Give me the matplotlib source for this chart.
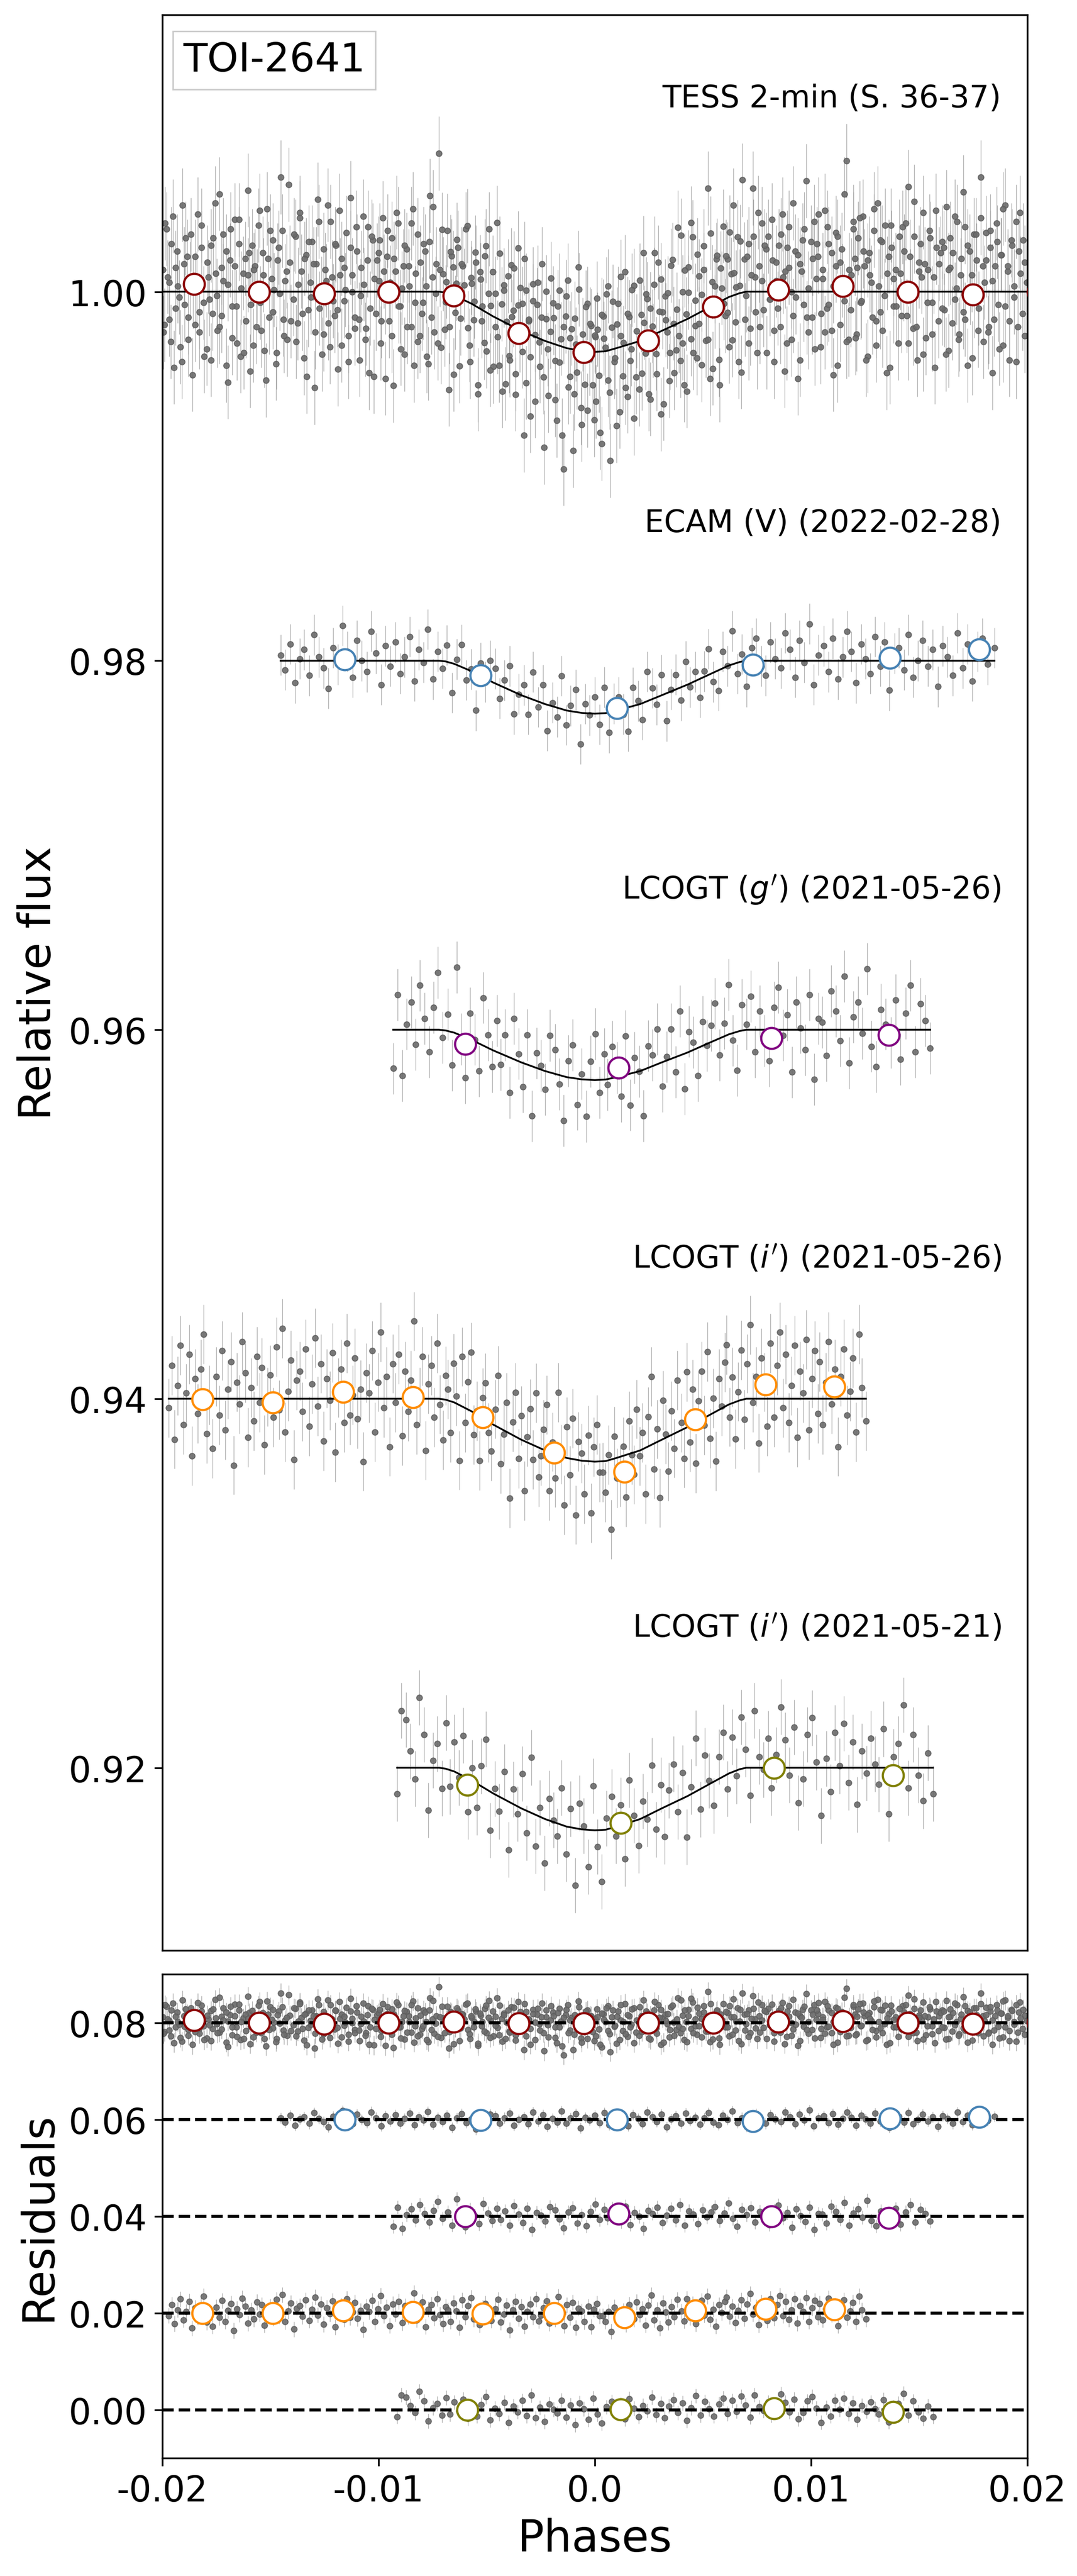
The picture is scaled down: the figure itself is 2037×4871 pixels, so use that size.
"""
plot.py
TOI-2641: phase-folded light curves (TESS, ECAM, LCOGT) with model and residuals
"""

import matplotlib.pyplot as plt
import numpy as np

plt.rcParams['axes.unicode_minus'] = False

# ---------------------------------------------------------------- data
# phases in units of 1e-5, residuals in units of 1e-4 (relative flux)

# TESS sector 36
tess36_phase = [
    -1998, -1989, -1981, -1969, -1960, -1952, -1939, -1931, -1921, -1910, -1899, -1892, -1879, -1871, -1860, -1849, -1841, -1830, -1819, -1809,
    -1795, -1786, -1776, -1767, -1755, -1747, -1736, -1727, -1718, -1705, -1697, -1686, -1677, -1666, -1657, -1645, -1637, -1626, -1614, -1605,
    -1599, -1591, -1579, -1571, -1562, -1550, -1542, -1533, -1520, -1512, -1502, -1490, -1483, -1473, -1462, -1452, -1440, -1433, -1422, -1411,
    -1394, -1384, -1375, -1364, -1357, -1344, -1334, -1325, -1315, -1307, -1295, -1288, -1275, -1264, -1255, -1247, -1235, -1224, -1216, -1203,
    -1197, -1187, -1178, -1170, -1158, -1149, -1140, -1129, -1122, -1109, -1101, -1089, -1081, -1069, -1059, -1050, -1039, -1028, -1021, -1007,
    -998, -989, -981, -969, -960, -952, -939, -931, -921, -910, -899, -892, -879, -871, -860, -849, -841, -830, -819, -809,
    -799, -791, -779, -771, -762, -750, -742, -733, -720, -712, -702, -690, -683, -673, -662, -652, -640, -633, -622, -611,
    -597, -587, -578, -570, -558, -549, -540, -529, -522, -509, -501, -489, -481, -469, -459, -450, -439, -428, -421, -407,
    -395, -386, -376, -367, -355, -347, -336, -327, -318, -305, -297, -286, -277, -266, -257, -245, -237, -226, -214, -205,
    -194, -184, -175, -164, -157, -144, -134, -125, -115, -107, -95, -88, -75, -64, -55, -47, -35, -24, -16, -3,
    2, 11, 19, 31, 40, 48, 61, 69, 79, 90, 101, 108, 121, 129, 140, 151, 159, 170, 181, 191,
    206, 216, 225, 236, 243, 256, 266, 275, 285, 293, 305, 312, 325, 336, 345, 353, 365, 376, 384, 397,
    405, 414, 424, 433, 445, 453, 464, 473, 482, 495, 503, 514, 523, 534, 543, 555, 563, 574, 586, 595,
    603, 613, 622, 630, 642, 651, 660, 671, 678, 691, 699, 711, 719, 731, 741, 750, 761, 772, 779, 793,
    801, 809, 821, 829, 838, 850, 858, 867, 880, 888, 898, 910, 917, 927, 938, 948, 960, 967, 978, 989,
    1005, 1014, 1024, 1033, 1045, 1053, 1064, 1073, 1082, 1095, 1103, 1114, 1123, 1134, 1143, 1155, 1163, 1174, 1186, 1195,
    1202, 1211, 1219, 1231, 1240, 1248, 1261, 1269, 1279, 1290, 1301, 1308, 1321, 1329, 1340, 1351, 1359, 1370, 1381, 1391,
    1403, 1413, 1422, 1430, 1442, 1451, 1460, 1471, 1478, 1491, 1499, 1511, 1519, 1531, 1541, 1550, 1561, 1572, 1579, 1593,
    1606, 1616, 1625, 1636, 1643, 1656, 1666, 1675, 1685, 1693, 1705, 1712, 1725, 1736, 1745, 1753, 1765, 1776, 1784, 1797,
    1801, 1809, 1821, 1829, 1838, 1850, 1858, 1867, 1880, 1888, 1898, 1910, 1917, 1927, 1938, 1948, 1960, 1967, 1978, 1989,
]
tess36_resid = [
    12, -18, 34, 5, -27, 41, -9, 22, -3, -38, 15, 29, -14, 7, -45, 19, 2, -22, 36, -6,
    -31, 8, 25, -12, 48, -2, -19, 13, 31, -40, 4, 17, -25, 39, -8, 26, -35, 10, -16, 55,
    21, -7, -29, 14, 3, 44, -21, 9, -48, 18, 33, -11, 1, -33, 24, 62, -15, 6, -26, 16,
    -4, 30, -17, 43, 11, -36, 20, -10, 5, 27, -52, 15, 38, -1, -23, 12, 47, -30, 8, -13,
    25, -42, 9, 18, -5, 32, -24, 51, 0, -14, 22, -37, 13, 4, -20, 35, -9, 28, -46, 17,
    6, -28, 40, -3, 19, -16, 29, -51, 11, 37, -8, 2, -34, 23, 14, -19, 45, -6, 31, -24,
    -12, 26, 3, -39, 52, 8, -22, 15, 75, -30, 10, -5, 34, -18, 21, -43, 7, 27, -11, 18,
    39, -14, -32, 11, 2, 24, -47, 16, -6, 30, -21, 46, 5, -27, 13, -10, 36, -38, 20, 1,
    -17, 33, 9, -25, 44, -3, 15, -56, 23, 7, -12, 28, -35, 18, -2, 41, -20, 12, -29, 6,
    22, -9, -41, 30, 4, -66, 17, 37, -15, 11, -24, 3, 45, -31, 9, -18, 26, -4, 14, -37,
    8, 29, -13, -50, 19, 2, 35, -23, 12, -7, -42, 24, 6, -16, 40, -28, 15, -3, 31, -19,
    -26, 14, 47, -8, 21, -34, 5, 27, -11, 38, -45, 10, 18, -2, -29, 33, 1, -14, 52, -21,
    16, -35, 3, 28, -12, 43, -6, -24, 20, 9, 35, -17, 65, -39, 13, -4, 24, -31, 7, 40,
    -9, 21, -27, 12, 49, -15, 31, 4, -43, 18, -2, 26, -20, 56, 8, -33, 14, 37, -10, 23,
    30, -4, 17, -38, 6, 25, -19, 42, 11, -28, 35, 0, -13, 22, -47, 15, 28, -7, 60, -22,
    -14, 38, 7, 19, -30, 12, 44, -9, 26, -21, 3, 32, -40, 16, 23, -5, 71, -26, 9, 34,
    18, -23, 29, -6, 41, 14, -35, 21, 5, 33, -16, 48, -11, 27, -2, -44, 19, 36, -8, 12,
    -28, 10, 35, 22, -13, 57, 3, -20, 30, -37, 16, 8, 43, -25, 12, 29, -6, -41, 24, 15,
    27, -10, 46, -32, 13, 21, -4, 38, -23, 9, 54, -15, 25, 2, -36, 31, 17, -9, 40, -27,
    5, 32, -19, 24, -44, 14, 37, -7, 20, -29, 47, 11, -16, 28, 3, -38, 22, 43, -12, 16,
]

# TESS sector 37
tess37_phase = [
    -1995, -1987, -1975, -1967, -1958, -1946, -1938, -1929, -1916, -1908, -1898, -1886, -1879, -1869, -1858, -1848, -1836, -1829, -1818, -1807,
    -1793, -1783, -1774, -1766, -1754, -1745, -1736, -1725, -1718, -1705, -1697, -1685, -1677, -1665, -1655, -1646, -1635, -1624, -1617, -1603,
    -1594, -1585, -1577, -1565, -1556, -1548, -1535, -1527, -1517, -1506, -1495, -1488, -1475, -1467, -1456, -1445, -1437, -1426, -1415, -1405,
    -1391, -1382, -1372, -1363, -1351, -1343, -1332, -1323, -1314, -1301, -1293, -1282, -1273, -1262, -1253, -1241, -1233, -1222, -1210, -1201,
    -1190, -1180, -1171, -1160, -1153, -1140, -1130, -1121, -1111, -1103, -1091, -1084, -1071, -1060, -1051, -1043, -1031, -1020, -1012, -1001,
    -995, -987, -975, -967, -958, -946, -938, -929, -916, -908, -898, -886, -879, -869, -858, -848, -836, -829, -818, -807,
    -794, -785, -777, -765, -756, -748, -735, -727, -717, -706, -695, -688, -675, -667, -656, -645, -637, -626, -615, -605,
    -590, -580, -571, -560, -553, -540, -530, -521, -511, -503, -491, -484, -471, -460, -451, -443, -431, -420, -412, -401,
    -393, -383, -374, -366, -354, -345, -336, -325, -318, -305, -297, -285, -277, -265, -255, -246, -235, -224, -217, -203,
    -191, -182, -172, -163, -151, -143, -132, -123, -114, -101, -93, -82, -73, -62, -53, -41, -33, -22, -10, -1,
    5, 13, 25, 33, 42, 54, 62, 71, 84, 92, 102, 114, 121, 131, 142, 152, 164, 171, 182, 193,
    209, 218, 228, 237, 249, 257, 268, 277, 286, 299, 307, 318, 327, 338, 347, 359, 367, 378, 390, 399,
    407, 417, 426, 434, 446, 455, 464, 475, 482, 495, 503, 515, 523, 535, 545, 554, 565, 576, 583, 597,
    606, 615, 623, 635, 644, 652, 665, 673, 683, 694, 705, 712, 725, 733, 744, 755, 763, 774, 785, 795,
    810, 820, 829, 840, 847, 860, 870, 879, 889, 897, 909, 916, 929, 940, 949, 957, 969, 980, 988, 999,
    1007, 1017, 1026, 1034, 1046, 1055, 1064, 1075, 1082, 1095, 1103, 1115, 1123, 1135, 1145, 1154, 1165, 1176, 1183, 1197,
    1205, 1213, 1225, 1233, 1242, 1254, 1262, 1271, 1284, 1292, 1302, 1314, 1321, 1331, 1342, 1352, 1364, 1371, 1382, 1393,
    1409, 1418, 1428, 1437, 1449, 1457, 1468, 1477, 1486, 1499, 1507, 1518, 1527, 1538, 1547, 1559, 1567, 1578, 1590, 1599,
    1606, 1615, 1623, 1635, 1644, 1652, 1665, 1673, 1683, 1694, 1705, 1712, 1725, 1733, 1744, 1755, 1763, 1774, 1785, 1795,
    1810, 1820, 1829, 1840, 1847, 1860, 1870, 1879, 1889, 1897, 1909, 1916, 1929, 1940, 1949, 1957, 1969, 1980, 1988, 1999,
]
tess37_resid = [
    -22, 37, 8, -15, 26, -41, 13, 3, -30, 47, -7, 19, -26, 31, 0, -18, 42, -11, 24, -35,
    16, -4, -37, 29, 10, -21, 53, -13, 6, 22, -49, 34, -8, 14, -28, 39, 2, -33, 18, 9,
    -43, 25, 12, -19, 36, -6, 21, -32, 45, -14, 7, 28, -39, 17, -1, 33, -24, 11, 58, -16,
    31, -27, 4, 40, -12, 18, -46, 27, -3, 15, -22, 50, -9, -34, 23, 6, -17, 38, -5, 26,
    -10, 44, -29, 13, 1, -38, 24, 9, -20, 35, -15, -2, 41, -26, 17, -44, 30, 7, -12, 21,
    28, -16, 11, -47, 33, 5, -24, 18, 43, -8, -31, 14, 25, -19, 3, 37, -40, 10, -27, 16,
    -6, 22, -35, 27, -14, 46, -1, -28, 12, 34, -20, 6, -52, 23, 15, -9, 31, -37, 19, 8,
    41, -23, 14, -8, 29, -42, 20, 2, -17, 36, 11, -30, 24, -5, 52, -25, 9, 17, -33, 26,
    -19, 5, 32, -36, 13, 23, -11, 40, -27, 8, -44, 19, 1, 30, -15, 12, -58, 27, -4, 35,
    14, -30, 21, -9, -48, 11, 28, -21, 6, -55, 17, -12, 33, -40, 4, 24, -32, 15, -18, 9,
    -27, 12, -44, 20, 7, 31, -16, -60, 26, -5, 13, -35, 38, 2, -23, 17, -9, 29, -41, 6,
    33, -18, 9, 24, -31, 15, -3, 44, -22, 11, 28, -40, 5, 19, -14, 36, -26, 8, -7, 47,
    -12, 27, -39, 14, 51, -20, 8, 32, -6, -29, 22, 3, -17, 40, -34, 10, 26, -45, 18, -2,
    23, -8, 35, -24, 12, 4, -37, 28, 61, -15, 19, -28, 9, 30, -11, 43, -19, 6, 25, -33,
    -4, 39, -21, 16, -9, 31, 8, -43, 24, 13, -26, 48, -3, 20, -37, 11, 34, -14, 2, 27,
    18, -31, 26, 42, -12, 7, -22, 35, -7, 21, -45, 14, 30, -18, 6, 53, -27, 12, -10, 38,
    -25, 13, 40, -5, 22, -37, 17, 9, -14, 45, -29, 3, 28, -21, 36, 10, -41, 24, 7, -8,
    30, -13, 4, 37, -28, 19, -2, 49, -19, 11, 26, -34, 15, -6, 33, -23, 8, 44, -16, 21,
    -9, 24, -34, 12, 29, -17, 41, 2, -26, 18, -11, 35, -40, 22, 9, -5, 31, -21, 62, 14,
    17, -22, 33, 6, -15, 27, -31, 20, 45, -8, 14, -37, 25, -3, 38, -19, 10, 28, -24, 5,
]

ecam_phase = [
    -1453, -1432, -1408, -1387, -1365, -1344, -1320, -1299, -1277, -1254, -1233, -1210, -1189, -1167, -1145,
    -1120, -1099, -1077, -1054, -1033, -1011, -988, -967, -945, -922, -900, -879, -856, -834, -813,
    -793, -772, -748, -727, -705, -684, -660, -639, -617, -594, -573, -550, -529, -507, -485,
    -460, -439, -417, -394, -373, -351, -328, -307, -285, -262, -240, -219, -196, -174, -153,
    -133, -112, -88, -67, -45, -24, 0, 21, 43, 66, 87, 110, 131, 153, 175,
    200, 221, 243, 266, 287, 309, 332, 353, 375, 398, 420, 441, 464, 486, 507,
    527, 548, 572, 593, 615, 636, 660, 681, 703, 726, 747, 770, 791, 813, 835,
    860, 881, 903, 926, 947, 969, 992, 1013, 1035, 1058, 1080, 1101, 1124, 1146, 1167,
    1187, 1208, 1232, 1253, 1275, 1296, 1320, 1341, 1363, 1386, 1407, 1430, 1451, 1473, 1495,
    1517, 1540, 1563, 1586, 1609, 1632, 1655, 1678, 1701, 1724, 1747, 1770, 1793, 1816, 1848,
]
ecam_resid = [
    3, -5, 9, -12, 1, 6, -8, 14, 2, -4, -15, 7, -2, 19, 5,
    -9, 11, 0, -6, 16, 4, -13, 8, -3, 10, -7, 2, 13, -11, 6,
    -1, 17, -10, 5, -4, 9, -16, 3, 12, -6, 1, -20, 7, -2, 11,
    8, -7, 4, 13, -12, 0, 6, -9, 15, -3, 10, -14, 2, -5, 18,
    -8, 3, 12, -17, 5, -1, 9, -6, 14, -11, 4, 7, -3, -13, 10,
    2, -9, 16, 6, -4, 11, -15, 1, 8, -7, 13, -2, 5, -10, 3,
    14, -5, -11, 9, 0, 18, -6, 4, -14, 7, 12, -3, -8, 10, 1,
    -4, 15, 6, -9, 11, -1, 20, -13, 3, 8, -6, 12, -10, 2, 16,
    5, -12, 9, 1, -7, 13, -3, 10, -16, 4, 7, -5, 14, -9, 0,
    11, -3, 6, -14, 8, 2, -8, 15, -4, 9, -11, 5, 12, -2, 7,
]

gp_phase = [
    -932, -912, -890, -870, -849, -829, -808, -787, -766, -746, -725, -704,
    -680, -660, -639, -618, -598, -577, -556, -536, -515, -494, -473, -453,
    -436, -416, -394, -374, -353, -333, -312, -291, -270, -250, -229, -208,
    -184, -164, -143, -122, -102, -81, -60, -40, -19, 2, 23, 43,
    60, 80, 102, 122, 143, 163, 184, 205, 226, 246, 267, 288,
    312, 332, 353, 374, 394, 415, 436, 456, 477, 498, 519, 539,
    556, 576, 598, 618, 639, 659, 680, 701, 722, 742, 763, 784,
    808, 828, 849, 870, 890, 911, 932, 952, 973, 994, 1015, 1035,
    1052, 1072, 1094, 1114, 1135, 1155, 1176, 1197, 1218, 1238, 1259, 1280,
    1300, 1323, 1346, 1369, 1391, 1414, 1437, 1460, 1483, 1506, 1528, 1551,
]
gp_resid = [
    -21, 19, -25, 3, 15, -8, 24, 6, -12, 12, 31, -4,
    9, -18, 36, -2, -22, 14, 1, -15, 26, 7, -9, 17,
    -6, 11, -19, 22, 4, -13, 16, -27, 8, 2, -10, 20,
    13, -5, -24, 9, 18, -14, 3, -20, 10, 25, -7, 14,
    -3, 17, 5, -11, 21, -17, 8, 0, -25, 12, 6, 19,
    -13, 2, 16, -8, 24, -19, 11, 4, -15, 13, -1, 9,
    20, -9, 7, 27, -4, -21, 14, 3, 18, -12, 10, -6,
    -17, 12, 23, -3, 8, -23, 15, 1, -11, 19, -27, 6,
    4, -14, 21, 10, -6, 29, -18, 7, 15, -2, 33, -9,
    -20, 11, 3, -7, 16, -16, 9, 24, -12, 14, 5, -10,
]

ip26_phase = [
    -1970, -1957, -1943, -1930, -1916, -1903, -1889, -1876, -1862, -1849, -1835, -1822, -1809, -1795, -1782, -1768,
    -1750, -1737, -1724, -1710, -1697, -1683, -1670, -1656, -1643, -1630, -1616, -1603, -1589, -1576, -1562, -1549,
    -1540, -1527, -1513, -1500, -1486, -1473, -1459, -1446, -1432, -1419, -1405, -1392, -1379, -1365, -1352, -1338,
    -1320, -1307, -1294, -1280, -1267, -1253, -1240, -1226, -1213, -1200, -1186, -1173, -1159, -1146, -1132, -1119,
    -1110, -1097, -1083, -1070, -1056, -1043, -1029, -1016, -1002, -989, -975, -962, -949, -935, -922, -908,
    -890, -877, -864, -850, -837, -823, -810, -796, -783, -770, -756, -743, -729, -716, -702, -689,
    -680, -667, -653, -640, -626, -613, -599, -586, -572, -559, -545, -532, -519, -505, -492, -478,
    -460, -447, -434, -420, -407, -393, -380, -366, -353, -340, -326, -313, -299, -286, -272, -259,
    -250, -237, -223, -210, -196, -183, -169, -156, -142, -129, -115, -102, -89, -75, -62, -48,
    -30, -17, -4, 10, 23, 37, 50, 64, 77, 90, 104, 117, 131, 144, 158, 171,
    180, 193, 207, 220, 234, 247, 261, 274, 288, 301, 315, 328, 341, 355, 368, 382,
    400, 413, 426, 440, 453, 467, 480, 494, 507, 520, 534, 547, 561, 574, 588, 601,
    610, 623, 637, 650, 664, 677, 691, 704, 718, 731, 745, 758, 771, 785, 798, 812,
    830, 843, 856, 870, 883, 897, 910, 924, 937, 950, 964, 977, 991, 1004, 1018, 1031,
    1040, 1054, 1068, 1082, 1096, 1110, 1124, 1138, 1152, 1166, 1180, 1194, 1208, 1222, 1236, 1254,
]
ip26_resid = [
    -5, 18, -22, 7, 29, -14, 3, 24, -31, 11, -8, 16, 35, -19, 2, -27,
    12, -9, 26, -17, 5, 20, -36, 9, -3, 31, 14, -21, 6, -12, 23, -2,
    17, -25, 1, 13, -10, 28, -6, 38, -18, 4, 21, -33, 10, 15, -7, 27,
    -15, 8, 33, -4, 19, -23, 11, -1, 25, -29, 6, 16, -13, 30, -9, 2,
    22, -11, 5, -34, 14, 3, 26, -18, 9, 36, -5, 12, -26, 19, -2, 24,
    -20, 15, -7, 10, 42, -14, 1, 23, -28, 8, 18, -10, 30, -3, -22, 13,
    6, -17, 21, 4, -30, 27, -8, 15, 32, -12, 2, -24, 11, 20, -6, -15,
    9, 28, -19, -2, 16, -35, 7, 24, -11, 13, -27, 3, 19, -8, 29, -16,
    -4, 11, 25, -21, 6, -13, 34, 1, -26, 17, -9, 22, -30, 10, 4, -18,
    14, -28, 8, 20, -6, -6, -17, 3, -38, 12, -11, -11, 5, -23, 18, -1,
    -12, 23, -3, 9, -25, 16, 37, -14, 7, -31, 21, 2, -19, 13, -8, 28,
    4, -16, 30, -9, 19, -22, 11, 26, -4, 35, -13, 8, -27, 17, 1, 24,
    33, -7, 14, -20, 5, 27, -11, 19, 40, -2, 12, -24, 22, 9, -15, 30,
    -10, 18, 36, -5, 24, -13, 7, 29, -21, 15, 3, 32, -17, 11, 26, -8,
    20, -14, 9, 31, -3, 16, -26, 12, 27, -9, 4, 22, -18, 35, 6, -12,
]

ip21_phase = [
    -914, -894, -873, -852, -832, -811, -790, -770, -749, -728, -707, -687,
    -670, -650, -628, -608, -587, -567, -546, -525, -504, -484, -463, -442,
    -418, -398, -377, -356, -336, -315, -294, -274, -253, -232, -211, -191,
    -174, -154, -132, -112, -91, -71, -50, -29, -8, 12, 33, 54,
    78, 98, 119, 140, 160, 181, 202, 222, 243, 264, 285, 305,
    322, 342, 364, 384, 405, 425, 446, 467, 488, 508, 529, 550,
    574, 594, 615, 636, 656, 677, 698, 718, 739, 760, 781, 801,
    818, 838, 860, 880, 901, 921, 942, 963, 984, 1004, 1025, 1046,
    1070, 1090, 1111, 1132, 1152, 1173, 1194, 1214, 1235, 1256, 1277, 1297,
    1313, 1336, 1359, 1382, 1404, 1427, 1450, 1473, 1496, 1519, 1541, 1564,
]
ip21_resid = [
    -14, 31, 26, 9, -6, 38, 18, -23, 4, 13, -11, 25,
    -9, 16, -2, 22, -18, 7, -13, 11, 27, -21, 3, -8,
    15, -26, 8, -4, 19, -12, 30, -17, 5, -24, 12, 1,
    -7, 20, -15, 10, -31, 14, 2, -20, 24, -9, -28, 6,
    17, -5, 11, -19, 23, 3, -14, 9, -2, 26, -10, 13,
    -16, 8, 21, -6, 14, -22, 4, 29, -11, 17, 2, -13,
    12, 24, -8, 19, -3, 28, 10, -15, 31, 6, -1, 16,
    -11, 7, 33, 15, -4, 22, -19, -6, 18, 27, 3, -26,
    5, -13, 19, 1, 24, -8, 14, -20, 9, -3, 16, 2,
    -9, 21, -25, 6, 13, 34, -11, 18, -4, -18, 8, -14,
]

# transit model: phases of the in-transit nodes and the flux deficit at them
model_core_phase = [-0.0072, -0.0069, -0.0065, -0.0057, -0.0047, -0.0034, -0.0023, -0.0013, -0.0006, 0.0,
                    0.0005, 0.0010, 0.0021, 0.0031, 0.0043, 0.0052, 0.0062, 0.0067, 0.0070]
tess_depth = [0, 0.00005, 0.00020, 0.00065, 0.00134, 0.00212, 0.00267, 0.00306, 0.00321, 0.00326,
              0.00323, 0.00306, 0.00267, 0.00212, 0.00147, 0.00091, 0.00029, 0.00008, 0]
ecam_depth = [0, 0.00004, 0.00017, 0.00057, 0.00118, 0.00187, 0.00235, 0.00270, 0.00283, 0.00287,
              0.00284, 0.00270, 0.00235, 0.00187, 0.00129, 0.00080, 0.00026, 0.00007, 0]
gp_depth = [0, 0.00004, 0.00016, 0.00055, 0.00112, 0.00177, 0.00224, 0.00257, 0.00269, 0.00273,
            0.00270, 0.00257, 0.00224, 0.00177, 0.00123, 0.00076, 0.00025, 0.00007, 0]
ip26_depth = [0, 0.00005, 0.00020, 0.00068, 0.00140, 0.00222, 0.00280, 0.00321, 0.00336, 0.00341,
              0.00338, 0.00321, 0.00280, 0.00222, 0.00153, 0.00095, 0.00031, 0.00009, 0]
ip21_depth = [0, 0.00005, 0.00020, 0.00068, 0.00139, 0.00220, 0.00278, 0.00319, 0.00334, 0.00339,
              0.00336, 0.00319, 0.00278, 0.00220, 0.00153, 0.00095, 0.00031, 0.00008, 0]

# binned points (phase, flux in the top panel, residual in the bottom panel)
tess_bin_phase = [-0.01854, -0.01552, -0.01252, -0.00954, -0.00652, -0.00352, -0.00052,
                  0.00248, 0.00548, 0.00848, 0.01148, 0.01448, 0.01748, 0.02048]
tess_bin_flux = [1.00041, 0.99998, 0.99990, 0.99998, 0.99978, 0.99776, 0.99673,
                 0.99735, 0.99918, 1.00011, 1.00031, 0.99998, 0.99984, 1.00000]
tess_bin_res = [0.0006, 0.0, -0.0002, 0.0, 0.0002, -0.0001, -0.0001,
                0.0, 0.0, 0.0002, 0.0004, 0.0, -0.0002, 0.0]

ecam_bin_phase = [-0.01156, -0.00528, 0.00103, 0.00732, 0.01365, 0.01777]
ecam_bin_flux = [0.98007, 0.97921, 0.97742, 0.97978, 0.98014, 0.98061]
ecam_bin_res = [0.0, -0.0001, 0.0, -0.0003, 0.0002, 0.0006]

gp_bin_phase = [-0.0060, 0.00109, 0.00817, 0.0136]
gp_bin_flux = [0.95923, 0.95794, 0.95955, 0.95972]
gp_bin_res = [0.0, 0.0005, 0.0, -0.0003]

ip26_bin_phase = [-0.01815, -0.01490, -0.01164, -0.00841, -0.00518, -0.00189,
                  0.00137, 0.00465, 0.00791, 0.01107]
ip26_bin_flux = [0.93996, 0.93981, 0.94036, 0.94008, 0.93898, 0.93708,
                 0.93603, 0.93887, 0.94076, 0.94067]
ip26_bin_res = [0.0, 0.0, 0.0005, 0.0002, -0.0001, 0.0, -0.0009, 0.0005, 0.0009, 0.0008]

ip21_bin_phase = [-0.0059, 0.00119, 0.00828, 0.0138]
ip21_bin_flux = [0.91907, 0.91702, 0.92000, 0.91960]
ip21_bin_res = [0.0, 0.0001, 0.0003, -0.0004]

# ------------------------------------------------------------ layout / style
datasets = [
    # name, phase, resid, depth, err, offset, res_offset, bins, colour, label_y
    ("TESS 2-min (S. 36-37)", tess36_phase + tess37_phase, tess36_resid + tess37_resid,
     tess_depth, 0.0020, 1.00, 0.08,
     (tess_bin_phase, tess_bin_flux, tess_bin_res), "darkred", 1.0105),
    ("ECAM (V) (2022-02-28)", ecam_phase, ecam_resid, ecam_depth, 0.0011, 0.98, 0.06,
     (ecam_bin_phase, ecam_bin_flux, ecam_bin_res), "steelblue", 0.9875),
    ("LCOGT ($g'$) (2021-05-26)", gp_phase, gp_resid, gp_depth, 0.0014, 0.96, 0.04,
     (gp_bin_phase, gp_bin_flux, gp_bin_res), "purple", 0.9676),
    ("LCOGT ($i'$) (2021-05-26)", ip26_phase, ip26_resid, ip26_depth, 0.0016, 0.94, 0.02,
     (ip26_bin_phase, ip26_bin_flux, ip26_bin_res), "darkorange", 0.9476),
    ("LCOGT ($i'$) (2021-05-21)", ip21_phase, ip21_resid, ip21_depth, 0.0015, 0.92, 0.00,
     (ip21_bin_phase, ip21_bin_flux, ip21_bin_res), "olive", 0.9276),
]

fig = plt.figure(figsize=(2037 / 300, 4872 / 300), dpi=300)
ax = fig.add_axes([0.1507, 0.2428, 0.8031, 0.7512])
axr = fig.add_axes([0.1507, 0.0458, 0.8031, 0.1878])

pt_kw = dict(fmt='o', ms=2.6, color='#6b6b6b', mec='#5e5e5e', mew=0.4, alpha=0.9,
             ecolor='#a3a3a3', elinewidth=0.3, capsize=0, zorder=1)

for (name, ph, res, depth, err, off, roff, bins, col, ly) in datasets:
    phase = np.array(ph) * 1e-5
    resid = np.array(res) * 1e-4
    # model line spans the data range
    m_phase = np.concatenate([[phase.min()], model_core_phase, [phase.max()]])
    m_flux = off - np.concatenate([[0.0], depth, [0.0]])
    # transit model evaluated at each exposure
    m_at = np.interp(phase, m_phase, m_flux)
    flux = m_at + resid

    ax.errorbar(phase, flux, yerr=err, **pt_kw)
    ax.plot(m_phase, m_flux, color='black', lw=0.8, zorder=2)
    ax.plot(bins[0], bins[1], 'o', ms=9.5, mfc='white', mec=col, mew=1.0, zorder=3)
    ax.text(0.0188, ly, name, ha='right', va='center', fontsize=14)

    axr.errorbar(phase, roff + resid, yerr=err, **pt_kw)
    axr.axhline(roff, color='black', ls='--', lw=1.4, zorder=2)
    axr.plot(bins[0], np.array(bins[2]) + roff, 'o', ms=9.5, mfc='white', mec=col, mew=1.0, zorder=3)

# target name in a legend-like frame
ax.text(0.0238, 0.9866, "TOI-2641", transform=ax.transAxes, ha='left', va='top', fontsize=18,
        bbox=dict(boxstyle='square,pad=0.25', fc='white', ec='0.8', lw=0.7))

ax.set_xlim(-0.02, 0.02)
ax.set_ylim(0.9101, 1.0150)
ax.set_yticks([0.92, 0.94, 0.96, 0.98, 1.00])
ax.set_yticklabels(['0.92', '0.94', '0.96', '0.98', '1.00'])
ax.tick_params(axis='y', labelsize=16)
ax.tick_params(axis='x', bottom=False, labelbottom=False)
ax.set_ylabel("Relative flux", fontsize=20)

axr.set_xlim(-0.02, 0.02)
axr.set_ylim(-0.00995, 0.0901)
axr.set_yticks([0.00, 0.02, 0.04, 0.06, 0.08])
axr.set_yticklabels(['0.00', '0.02', '0.04', '0.06', '0.08'])
axr.set_xticks([-0.02, -0.01, 0.0, 0.01, 0.02])
axr.set_xticklabels(['-0.02', '-0.01', '0.0', '0.01', '0.02'])
axr.tick_params(labelsize=16)
axr.set_xlabel("Phases", fontsize=20)
axr.set_ylabel("Residuals", fontsize=20)
fig.align_ylabels([ax, axr])

fig.savefig("out.png", dpi=300)
